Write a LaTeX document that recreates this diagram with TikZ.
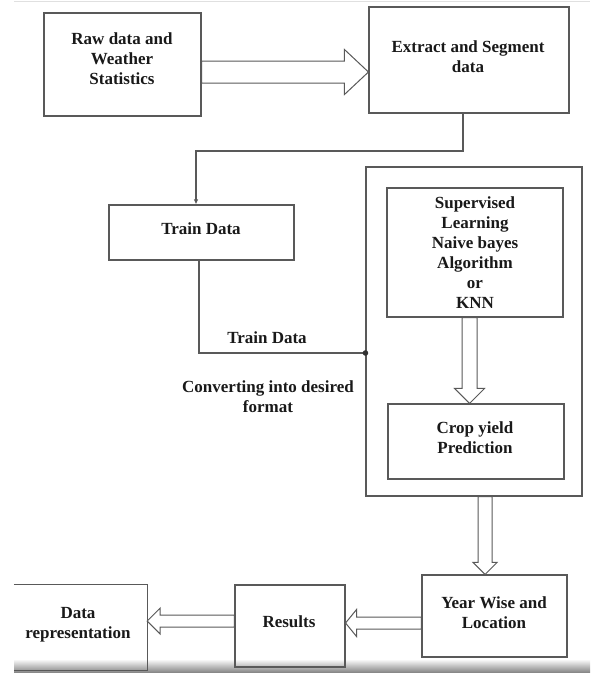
\documentclass[tikz,border=0pt]{standalone}
\usepackage{fontspec}
\setmainfont{Liberation Serif}
\usetikzlibrary{calc,arrows.meta}
\newcommand{\hollowarrow}[6]{% name, from, to, shaft half, head half, head length
  \coordinate (#1n) at ($(#3)!#6pt!(#2)$);
  \draw[blk] ($(#2)!#4pt!90:(#3)$) -- ($(#1n)!#4pt!90:(#3)$) -- ($(#1n)!#5pt!90:(#3)$)
    -- (#3) -- ($(#1n)!#5pt!-90:(#3)$) -- ($(#1n)!#4pt!-90:(#3)$) -- ($(#2)!#4pt!-90:(#3)$) -- cycle;}
\begin{document}
\begin{tikzpicture}[x=1pt,y=-1pt,
  box/.style={draw=black!65, line width=1.1pt, inner sep=0pt},
  txt/.style={font=\fontsize{17}{20}\selectfont\bfseries, align=center, text=black!90, inner sep=0pt},
  blk/.style={draw=black!65, line width=1pt, fill=white, line join=miter},
  conn/.style={draw=black!65, line width=1.1pt}]
\useasboundingbox (0,0) rectangle (590,673);
% faint screenshot edges
\draw[black!12, line width=1.5pt] (14,1.5) -- (590,1.5);
\shade[top color=white, bottom color=black!50] (14,659) rectangle (590,673);

% boxes
\node[box, minimum width=157pt, minimum height=103pt] (raw) at (122.5,64.5) {};
\node[box, minimum width=200pt, minimum height=106pt] (extract) at (469,60) {};
\node[box, minimum width=185pt, minimum height=55pt] (train) at (201.5,232.5) {};
\node[box, minimum width=216pt, minimum height=329pt] (outer) at (474,331.5) {};
\node[box, minimum width=176pt, minimum height=129pt] (sup) at (475,252.5) {};
\node[box, minimum width=176pt, minimum height=75pt] (crop) at (476,441.5) {};
\node[box, minimum width=145pt, minimum height=82pt] (year) at (494.5,616) {};
\node[box, minimum width=110pt, minimum height=82pt] (results) at (290,626) {};
\node[inner sep=0pt, minimum width=133pt, minimum height=85pt] (datarep) at (80.5,627.5) {};
\draw[conn] (datarep.north west) -- (datarep.north east) -- (datarep.south east) -- (datarep.south west);

% texts
\node[txt] (rawt) at (122,59) {Raw data and\\Weather\\Statistics};
\node[txt] (extt) at (468,57) {Extract and Segment\\data};
\node[txt] (traint) at (201,229) {Train Data};
\node[txt] (supt) at (475,253) {Supervised\\Learning\\Naive bayes\\Algorithm\\or\\KNN};
\node[txt] (cropt) at (475,437.5) {Crop yield\\Prediction};
\node[txt] (yeart) at (494,613) {Year Wise and\\Location};
\node[txt] (rest) at (289,622) {Results};
\node[txt] (drt) at (78,625) {Data\\representation};
\node[txt] (lbl1) at (267,338) {Train Data};
\node[txt] (lbl2) at (268,397) {Converting into desired\\format};

% hollow block arrows
\coordinate (a1s) at (raw.east |- 0,72);
\coordinate (a1e) at (extract.west |- 0,72);
\hollowarrow{h1}{a1s}{a1e}{11}{22.5}{24}
\coordinate (a2s) at (sup.south -| 469.5,0);
\coordinate (a2e) at (crop.north -| 469.5,0);
\hollowarrow{h2}{a2s}{a2e}{7.5}{15}{15}
\coordinate (a3s) at (outer.south -| 485,0);
\coordinate (a3e) at (year.north -| 485,0);
\hollowarrow{h3}{a3s}{a3e}{7}{12}{12}
\coordinate (a4s) at (year.west |- 0,623);
\coordinate (a4e) at (results.east |- 0,623);
\hollowarrow{h4}{a4s}{a4e}{6}{13.5}{11}
\coordinate (a5s) at (results.west |- 0,621);
\coordinate (a5e) at (datarep.east |- 0,621);
\hollowarrow{h5}{a5s}{a5e}{6}{13}{13}

% line connectors
\coordinate (es) at (extract.south -| 463,0);
\coordinate (tn) at (train.north -| 196,0);
\draw[conn, -{Latex[length=5pt,width=4.5pt]}] (es) -- (es |- 0,151) -| (tn);
\coordinate (ts) at (train.south -| 199,0);
\coordinate (od) at (outer.west |- 0,353);
\draw[conn] (ts) |- (od);
\fill[black!80] (od) circle (2.8pt);
\end{tikzpicture}
\end{document}
